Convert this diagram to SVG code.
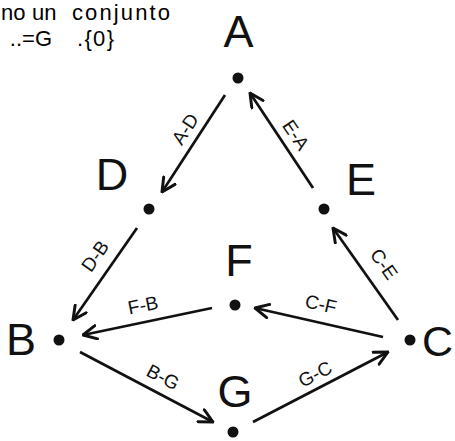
<svg xmlns="http://www.w3.org/2000/svg" width="455" height="441" viewBox="0 0 455 441">
<style>
.cap{font-family:"Liberation Sans",Arial,sans-serif;font-size:22px;fill:#000}
.big{font-family:"Liberation Sans",Arial,sans-serif;font-size:45px;fill:#111;text-anchor:middle}
.lbl{font-family:"Liberation Sans",Arial,sans-serif;font-size:19px;fill:#111;text-anchor:middle}
.dot{fill:#111}
.edge{stroke:#111;stroke-width:2.7;fill:none;marker-end:url(#ah)}
</style>
<defs>
<marker id="ah" viewBox="0 0 12 12" refX="11" refY="6" markerWidth="6" markerHeight="6" orient="auto" markerUnits="strokeWidth">
<path d="M1,1 L11,6 L1,11" fill="none" stroke="#111" stroke-width="2.2" stroke-linecap="round" stroke-linejoin="round"/>
</marker>
</defs>
<rect width="455" height="441" fill="#fff"/>
<g id="caption">
<text class="cap" x="1" y="20">no</text>
<text class="cap" x="32" y="20">un</text>
<text class="cap" x="72" y="20" textLength="98" lengthAdjust="spacing">conjunto</text>
<text class="cap" x="52" y="46" text-anchor="end">..=G</text>
<text class="cap" x="77" y="46" textLength="37" lengthAdjust="spacing">.{0}</text>
</g>
<g id="connectors">
<line class="edge" x1="225" y1="95" x2="162" y2="192"/>
<line class="edge" x1="313" y1="188" x2="250" y2="93"/>
<line class="edge" x1="137" y1="228" x2="73" y2="320"/>
<line class="edge" x1="212" y1="308" x2="83" y2="335"/>
<line class="edge" x1="80" y1="352" x2="213" y2="422"/>
<line class="edge" x1="398" y1="320" x2="333" y2="228"/>
<line class="edge" x1="383" y1="337" x2="255" y2="308"/>
<line class="edge" x1="253" y1="422" x2="388" y2="352"/>
<text class="lbl" transform="translate(185,129) rotate(-57)" dy="0.35em">A-D</text>
<text class="lbl" transform="translate(296,135) rotate(56)" dy="0.35em">E-A</text>
<text class="lbl" transform="translate(95,256) rotate(-55)" dy="0.35em">D-B</text>
<text class="lbl" transform="translate(143,305) rotate(-11)" dy="0.35em">F-B</text>
<text class="lbl" transform="translate(163,377) rotate(28)" dy="0.35em">B-G</text>
<text class="lbl" transform="translate(384,264) rotate(55)" dy="0.35em">C-E</text>
<text class="lbl" transform="translate(321,304) rotate(13)" dy="0.35em">C-F</text>
<text class="lbl" transform="translate(315,374) rotate(-28)" dy="0.35em">G-C</text>
</g>
<g id="node-A"><circle class="dot" cx="238" cy="78" r="5.5"/><text class="big" x="238.5" y="47">A</text></g>
<g id="node-D"><circle class="dot" cx="149" cy="209" r="5.5"/><text class="big" x="112" y="190">D</text></g>
<g id="node-E"><circle class="dot" cx="324" cy="209" r="5.5"/><text class="big" x="361" y="195">E</text></g>
<g id="node-F"><circle class="dot" cx="235" cy="305" r="5.5"/><text class="big" x="239" y="276">F</text></g>
<g id="node-B"><circle class="dot" cx="59" cy="340" r="5.5"/><text class="big" x="21" y="355">B</text></g>
<g id="node-C"><circle class="dot" cx="410" cy="340" r="5.5"/><text class="big" x="453" y="356" style="text-anchor:end;font-size:43px">C</text></g>
<g id="node-G"><circle class="dot" cx="233" cy="432" r="5.5"/><text class="big" x="235" y="407">G</text></g>
</svg>
